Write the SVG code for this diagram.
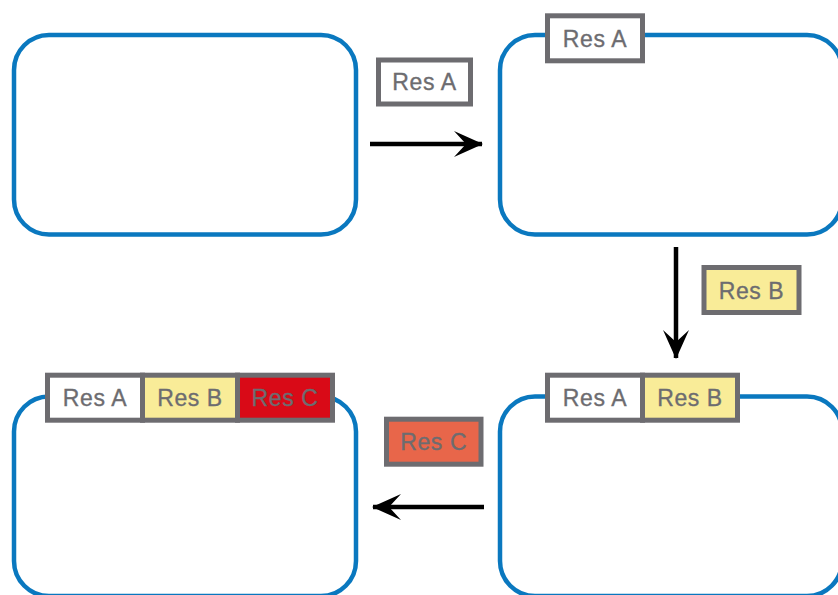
<svg xmlns="http://www.w3.org/2000/svg" width="838" height="595" viewBox="0 0 838 595">
<style>
.frame{fill:#ffffff;stroke:#0a78bf;stroke-width:4.5}
.tag{stroke:#6d6c70;stroke-width:5}
.t{font-family:"Liberation Sans",Arial,sans-serif;font-size:23px;fill:#6d6c70;stroke:#6d6c70;stroke-width:0.35;letter-spacing:0.6px;text-anchor:middle}
.w{fill:#ffffff}.y{fill:#f9ec98}.o{fill:#e8664a}.r{fill:#d90a17}
.conn{stroke:#000;stroke-width:4.5;fill:none}
</style>
<defs>
<marker id="ah" viewBox="0 0 30 26" refX="28" refY="13" markerWidth="30" markerHeight="26" markerUnits="userSpaceOnUse" orient="auto">
<path d="M0,0 L29,13 L0,26 L12,13 Z" fill="#000"/>
</marker>
</defs>
<g id="node1"><rect class="frame" x="14" y="35" width="342" height="199.5" rx="35"/></g>
<g id="node2"><rect class="frame" x="500" y="35" width="342" height="199.5" rx="35"/>
<rect class="tag w" x="547.5" y="15.8" width="95" height="45"/><text class="t" x="595" y="46.7">Res A</text></g>
<g id="node3"><rect class="frame" x="500" y="396.5" width="342" height="199.5" rx="35"/>
<rect class="tag w" x="547.5" y="375.2" width="95" height="45"/><text class="t" x="595" y="406.2">Res A</text>
<rect class="tag y" x="642.5" y="375.2" width="95" height="45"/><text class="t" x="690" y="406.2">Res B</text></g>
<g id="node4"><rect class="frame" x="14" y="396.5" width="342" height="199.5" rx="35"/>
<rect class="tag w" x="47.5" y="375.2" width="95" height="45"/><text class="t" x="95" y="406.2">Res A</text>
<rect class="tag y" x="142.5" y="375.2" width="95" height="45"/><text class="t" x="190" y="406.2">Res B</text>
<rect class="tag r" x="237.5" y="375.2" width="95" height="45"/><text class="t" x="285" y="406.2">Res C</text></g>
<g id="connectors">
<line class="conn" x1="370" y1="144" x2="482" y2="144" marker-end="url(#ah)"/>
<line class="conn" x1="676" y1="247" x2="676" y2="358" marker-end="url(#ah)"/>
<line class="conn" x1="484" y1="507" x2="373" y2="507" marker-end="url(#ah)"/>
</g>
<g id="label-resA"><rect class="tag w" x="378.5" y="60" width="92" height="44"/><text class="t" x="424.5" y="90.3">Res A</text></g>
<g id="label-resB"><rect class="tag y" x="704" y="267.5" width="95" height="45"/><text class="t" x="751.5" y="298.5">Res B</text></g>
<g id="label-resC"><rect class="tag o" x="386.5" y="419.2" width="94.5" height="45"/><text class="t" x="433.7" y="450.2">Res C</text></g>
</svg>
